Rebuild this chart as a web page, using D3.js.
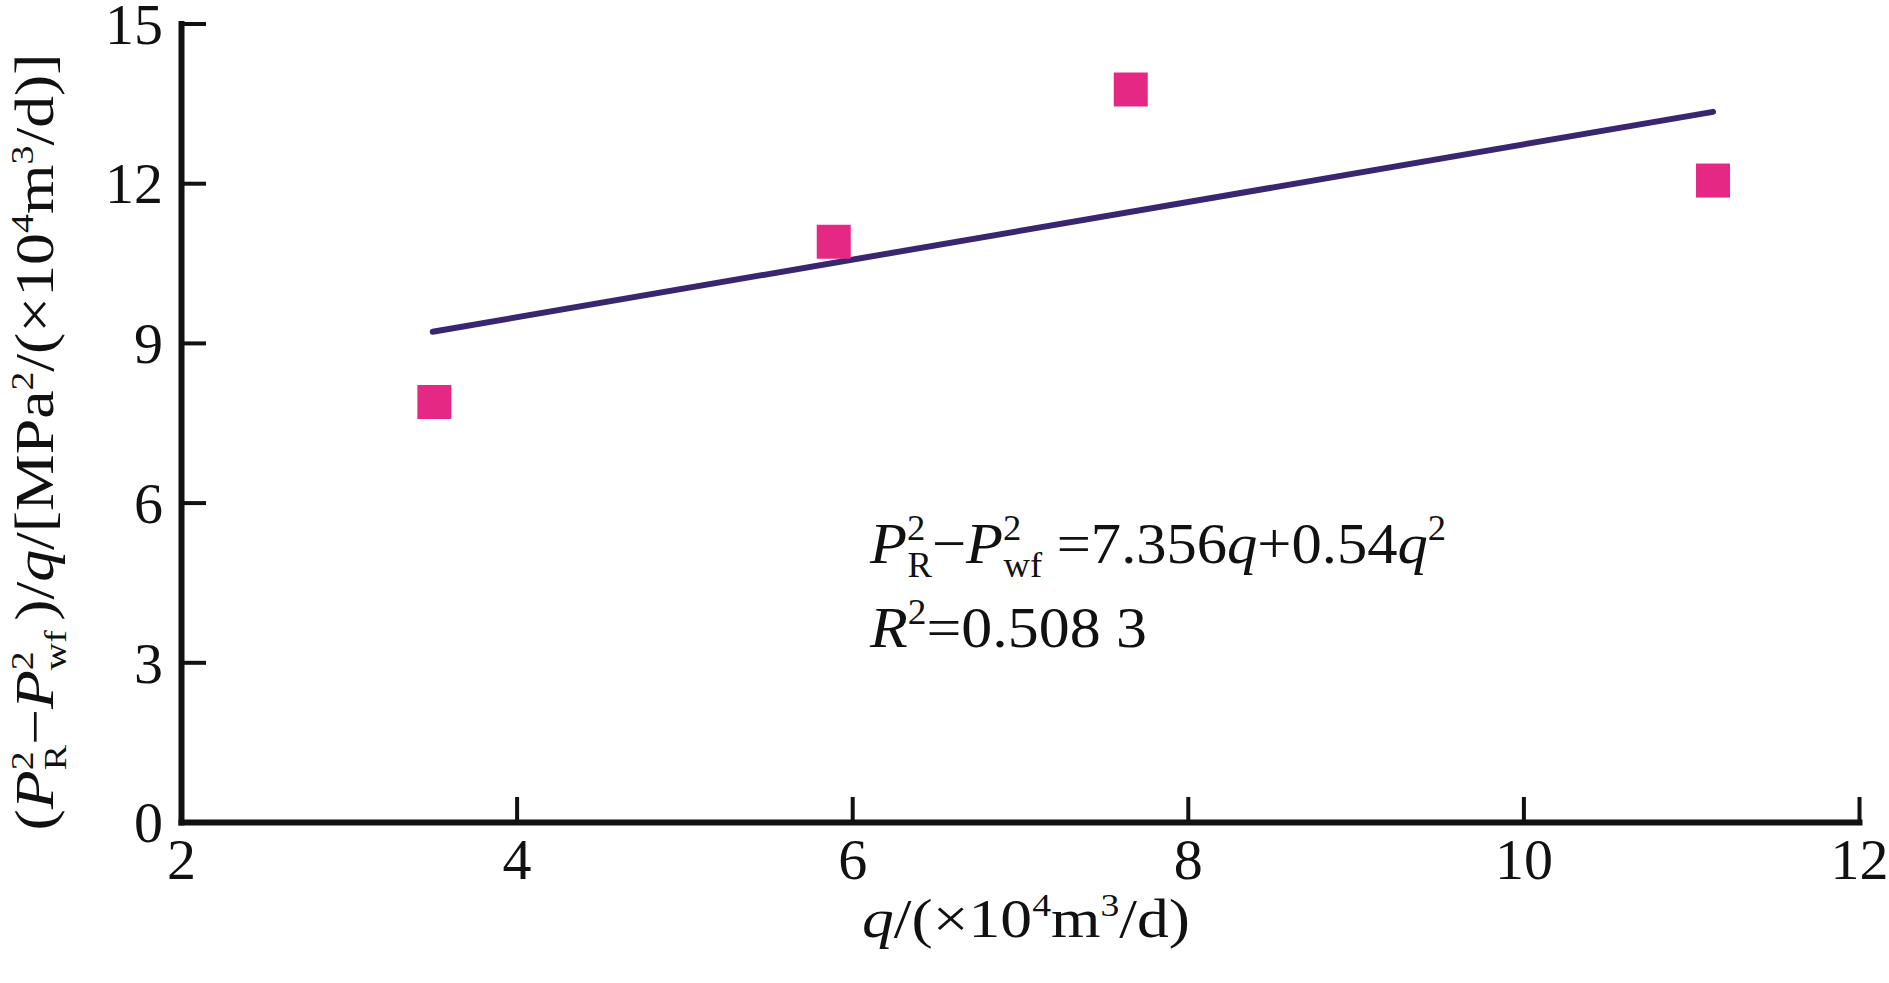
<!DOCTYPE html>
<html>
<head>
<meta charset="utf-8">
<script src="https://cdn.jsdelivr.net/npm/d3@7/dist/d3.min.js"></script>
<style>
    body { margin: 0; background: #fff; }
    .axis text { font-family: 'Liberation Serif', 'Times New Roman', serif; font-size: 58px; fill: #111; }
    .axis path, .axis line { stroke: #111; }
    .label { font-family: 'Liberation Serif', 'Times New Roman', serif; fill: #111; }
</style>
</head>
<body>
<div id="vis"></div>
<script>
var qValues = [3.51, 5.89, 7.66, 11.13];
var ratioValues = [7.89, 10.90, 13.76, 12.05];

// fitted line end points
var fitQ = [3.50, 11.13];
var fitRatio = [9.21, 13.34];

var xTicks = [2, 4, 6, 8, 10, 12];
var yTicks = [0, 3, 6, 9, 12, 15];

var width = 1889;
var height = 983;

var svg = d3.select('#vis')
            .append('svg')
            .attr('width', width)
            .attr('height', height);

var xScale = d3.scaleLinear()
                .domain([2, 12])
                .range([181, 1859]);
var yScale = d3.scaleLinear()
                .domain([0, 15])
                .range([822, 23.5]);

// axes
var xAxis = d3.axisBottom(xScale)
                .tickValues(xTicks)
                .tickSizeInner(-25)
                .tickSizeOuter(0)
                .tickPadding(16);
var yAxis = d3.axisLeft(yScale)
                .tickValues(yTicks)
                .tickSizeInner(-25)
                .tickSizeOuter(0)
                .tickPadding(18);

var gx = svg.append('g')
            .attr('class', 'axis')
            .attr('transform', 'translate(0,' + yScale(0) + ')')
            .call(xAxis);
var gy = svg.append('g')
            .attr('class', 'axis')
            .attr('transform', 'translate(' + xScale(2) + ',0)')
            .call(yAxis);

svg.selectAll('.axis path')
    .attr('stroke-width', 6)
    .attr('stroke-linecap', 'square');
svg.selectAll('.axis line')
    .attr('stroke-width', 4);
gy.selectAll('text').attr('dy', '0.34em');

// fit line
var line = d3.line()
            .x(function(d) { return xScale(d[0]); })
            .y(function(d) { return yScale(d[1]); });

svg.append('path')
    .datum(d3.zip(fitQ, fitRatio))
    .attr('d', line)
    .attr('fill', 'none')
    .attr('stroke', '#3a2670')
    .attr('stroke-width', 6)
    .attr('stroke-linecap', 'round');

// points
var size = 34;
svg.selectAll('rect.pt')
    .data(d3.zip(qValues, ratioValues))
    .enter().append('rect')
    .attr('class', 'pt')
    .attr('x', function(d) { return xScale(d[0]) - size / 2; })
    .attr('y', function(d) { return yScale(d[1]) - size / 2; })
    .attr('width', size)
    .attr('height', size)
    .attr('fill', '#e62885');

// writes a list of pieces into a text element as tspans
var rich = function(sel, segs) {
    segs.forEach(function(s) {
        var t = sel.append('tspan').text(s.t);
        if (s.it) t.style('font-style', 'italic');
        if (s.size) t.style('font-size', s.size + 'px');
        if (s.dy) t.attr('dy', s.dy);
        if (s.dx) t.attr('dx', s.dx);
    });
};

// y label
var yLab = svg.append('text')
                .attr('class', 'label')
                .attr('transform', 'translate(53,' + 442 + ') rotate(-90)')
                .attr('text-anchor', 'middle')
                .style('font-size', '54px')
                .attr('textLength', 777)
                .attr('lengthAdjust', 'spacingAndGlyphs');
rich(yLab, [
    { t: '(' },
    { t: 'P', it: true },
    { t: '2', size: 32, dy: -20 },
    { t: 'R', size: 32, dx: -16, dy: 33 },
    { t: '\u2212', dy: -13 },
    { t: 'P', it: true },
    { t: '2', size: 32, dy: -20 },
    { t: 'wf', size: 32, dx: -16, dy: 33 },
    { t: ')', dy: -13, dx: 8 },
    { t: '/' },
    { t: 'q', it: true },
    { t: '/[MPa' },
    { t: '2', size: 32, dy: -20 },
    { t: '/(\u00d710', dy: 20 },
    { t: '4', size: 32, dy: -20 },
    { t: 'm', dy: 20 },
    { t: '3', size: 32, dy: -20 },
    { t: '/d)]', dy: 20 }
]);

// x label
var xLab = svg.append('text')
                .attr('class', 'label')
                .attr('x', 1026)
                .attr('y', 937)
                .attr('text-anchor', 'middle')
                .style('font-size', '54px')
                .attr('textLength', 328)
                .attr('lengthAdjust', 'spacingAndGlyphs');
rich(xLab, [
    { t: 'q', it: true },
    { t: '/(\u00d710' },
    { t: '4', size: 32, dy: -21 },
    { t: 'm', dy: 21 },
    { t: '3', size: 32, dy: -21 },
    { t: '/d)', dy: 21 }
]);

// equation
var eq1 = svg.append('text')
                .attr('class', 'label')
                .attr('x', 870)
                .attr('y', 563)
                .style('font-size', '58px')
                .attr('textLength', 576)
                .attr('lengthAdjust', 'spacingAndGlyphs');
rich(eq1, [
    { t: 'P', it: true },
    { t: '2', size: 35, dy: -23 },
    { t: 'R', size: 35, dx: -17, dy: 37 },
    { t: '\u2212', dy: -14 },
    { t: 'P', it: true },
    { t: '2', size: 35, dy: -23 },
    { t: 'wf', size: 35, dx: -17, dy: 37 },
    { t: '=7.356', dy: -14, dx: 14 },
    { t: 'q', it: true },
    { t: '+0.54' },
    { t: 'q', it: true },
    { t: '2', size: 35, dy: -23 }
]);

var eq2 = svg.append('text')
                .attr('class', 'label')
                .attr('x', 870)
                .attr('y', 647)
                .style('font-size', '58px')
                .attr('textLength', 277)
                .attr('lengthAdjust', 'spacingAndGlyphs');
rich(eq2, [
    { t: 'R', it: true },
    { t: '2', size: 35, dy: -23 },
    { t: '=0.508 3', dy: 23 }
]);
</script>
</body>
</html>
